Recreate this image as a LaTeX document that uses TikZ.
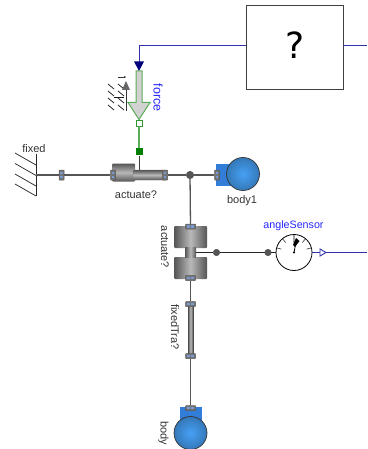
\documentclass[tikz,border=0pt]{standalone}
\usepackage{fontspec}
\setmainfont{Liberation Sans}
\newfontfamily\qfont{DejaVu Sans}
\usetikzlibrary{arrows.meta}
\definecolor{navy}{RGB}{0,0,127}
\definecolor{sig}{RGB}{50,50,170}
\definecolor{grn}{RGB}{0,127,0}
\definecolor{mech}{RGB}{85,85,85}
\definecolor{ballb}{RGB}{70,160,245}
\definecolor{portb}{RGB}{50,125,215}
\definecolor{cdark}{RGB}{85,85,85}
\definecolor{clight}{RGB}{185,185,185}
\tikzset{
 lbl/.style={font=\fontsize{11}{12}\selectfont,text=black!80,inner sep=0pt},
 bluelbl/.style={font=\fontsize{10.7}{12}\selectfont,text=blue!85!white,inner sep=0pt},
 mline/.style={draw=mech,line width=1.3pt},
 gline/.style={draw=grn!65!white,line width=1.1pt},
 sline/.style={draw=sig,line width=.9pt},
 junct/.style={circle,fill=mech,draw=black!70,line width=.4pt,minimum size=7.5pt,inner sep=0pt},
 connv/.style={rectangle,rounded corners=.6pt,fill=black!55,draw=black!65,line width=.5pt,minimum width=5pt,minimum height=10pt,inner sep=0pt},
 connh/.style={rectangle,rounded corners=.6pt,fill=black!55,draw=black!65,line width=.5pt,minimum width=10pt,minimum height=5pt,inner sep=0pt},
 dot/.style={fill=cyan!45!blue!55!white,draw=none,minimum size=2.2pt,inner sep=0pt,rectangle},
 ball/.style={circle,draw=black!80,line width=.7pt,inner color=ballb,outer color=ballb!75!black,minimum size=33pt,inner sep=0pt},
 cylh/.style={rectangle,rounded corners=1pt,draw=none,top color=cdark,bottom color=cdark,middle color=clight,inner sep=0pt},
 cylv/.style={rectangle,rounded corners=1pt,draw=none,left color=cdark,right color=cdark,middle color=clight,inner sep=0pt},
}
\newcommand{\vport}[2]{\node[connv] (#1) at (#2) {};
 \node[dot] at ([yshift=2pt]#1.center) {}; \node[dot] at ([yshift=-2pt]#1.center) {};}
\newcommand{\hport}[2]{\node[connh] (#1) at (#2) {};
 \node[dot] at ([xshift=2pt]#1.center) {}; \node[dot] at ([xshift=-2pt]#1.center) {};}
\begin{document}
\begin{tikzpicture}[x=1pt,y=-1pt]
\useasboundingbox (0,0) rectangle (367,449);
% controller
\node[draw=black!75,line width=.9pt,fill=white,minimum width=96.5pt,minimum height=84pt,inner sep=0pt] (ctrl) at (294.7,47.5) {};
\node[font=\qfont\fontsize{36}{40}\selectfont,text=black,inner sep=0pt] (q) at (294.7,45.5) {?};
% force
\coordinate (fc) at (139,45.5);
\coordinate (rout) at (367,45.5);
\coordinate (ftop) at (139,62);
\draw[sline] (ctrl.west |- fc) -- (fc) -- (ftop);
\draw[sline] (ctrl.east |- rout) -- (rout);
\fill[navy] (134,61.5) -- (144,61.5) -- (139,71) -- cycle;
\draw[gline,fill=gray!35,line width=1pt] (136,71) -- (142,71) -- (142,102.5) -- (150,102.5) -- (139,119.5) -- (128,102.5) -- (136,102.5) -- cycle;
\node[rectangle,draw=grn!80!white,fill=white,line width=.8pt,minimum size=6pt,inner sep=0pt] (fa) at (139,123) {};
\node[rectangle,fill=grn,minimum size=7pt,inner sep=0pt] (fb) at (139,152) {};
\draw[gline] (fa) -- (fb);
\node[bluelbl,rotate=-90,font=\fontsize{12.5}{14}\selectfont] (flbl) at (158,97.5) {force};
% support symbol
\draw[black!90,line width=.8pt] (114,97) -- (124,97);
\foreach \y in {85,92,99,106}{\draw[black!85,line width=.8pt] (108,\y-1) -- (114,\y+4); \draw[black!85,line width=.8pt] (118,\y-1) -- (124,\y+4);}
\draw[black!80,line width=.9pt] (126,111) -- (126,88);
\fill[gray!80!black] (122,90) -- (130,90) -- (126,81) -- cycle;
\draw[black!80,line width=.6pt,-{Stealth[length=2pt,width=2pt]}] (118,77) -- (126,77);
% fixed
\node[lbl] (fixedl) at (34,149) {fixed};
\coordinate (fixedc) at (36,175);
\draw[black!85,line width=.8pt] (36,154) -- (36,196);
\foreach \y in {153,163.5,174,184}{\draw[black!85,line width=.7pt] (15,\y) -- (36,\y+12);}
\vport{p1}{61.5,175}
\draw[mline] (fixedc) -- (p1);
% horizontal prismatic
\node[cylh,minimum width=23pt,minimum height=18pt] (cyl) at (123.5,172.5) {};
\node[cylh,draw=black!55,line width=.3pt,minimum width=33pt,minimum height=10pt] (rod) at (149.5,175) {};
\vport{p2}{113,175}
\vport{p3}{165,175}
\draw[mline] (p1) -- (p2);
\draw[black!75,line width=1pt] (fb) -- (139,170);
\node[lbl] (act1) at (136,195) {actuate?};
% junction
\node[junct] (j1) at (190,175) {};
\draw[mline] (p3) -- (j1);
% body1
\fill[portb] (216,164) rectangle (235,185.5);
\node[ball] (b1) at (243,174) {};
\vport{p4}{217,175}
\draw[mline] (j1) -- (p4);
\node[lbl] (b1l) at (242,201) {body1};
% vertical prismatic
\node[cylv,minimum width=33pt,minimum height=22pt] (blk1) at (190.5,237) {};
\node[cylv,minimum width=33pt,minimum height=22pt] (blk2) at (190.5,268) {};
\node[cylv,rounded corners=0pt,minimum width=11pt,minimum height=10pt] (neck) at (190.5,252.5) {};
\hport{p5}{190.5,226.5}
\hport{p6}{190.5,278}
\draw[mline] (j1) -- (p5);
\node[lbl,rotate=-90] (act2) at (165,247) {actuate?};
% sensor
\node[junct,minimum size=6.5pt] (j2) at (216.5,252.5) {};
\node[junct,minimum size=6.5pt] (j3) at (268,252.5) {};
\draw[black!85,line width=.9pt] (neck) -- (j2);
\draw[black!85,line width=.9pt] (j2) -- (j3);
\node[circle,draw=black,line width=.8pt,fill=white,minimum size=36pt,inner sep=0pt] (sens) at (294,252.5) {};
\draw[black!85,line width=.9pt] (j3) -- (sens);
\foreach \a in {-165,-130,-50,-15}{\draw[black!80,line width=.6pt] (sens.center) ++(\a:18) -- ++(\a:-5);}
\draw[gray!70,line width=1.3pt] (294,235) -- (294,243);
\fill[black] (296,238) -- (299.5,241) -- (295,247) -- (293,245) -- cycle;
\draw[black,line width=.8pt] (sens.center) -- (296,242);
\fill[black] (sens.center) circle (1.2pt);
\node[bluelbl] (angl) at (293.5,226) {angleSensor};
% output
\coordinate (sout) at (367,252.5);
\draw[sline] (sens) -- (sout);
\draw[draw=sig,fill=white,line width=.9pt] (320,249) -- (326,252.5) -- (320,256) -- cycle;
% fixedTra
\node[cylv,rounded corners=0pt,minimum width=5pt,minimum height=52pt] (rod2) at (190.5,330) {};
\draw[black!70,line width=.5pt] (188,304) -- (188,356) (193,304) -- (193,356);
\hport{p7}{190.5,304}
\hport{p8}{190.5,356}
\draw[mline] (p6) -- (p7);
\node[lbl,rotate=-90] (ftl) at (175,327) {fixedTra?};
% body
\fill[portb] (180,407) rectangle (202,425);
\node[ball] (b2) at (190.5,433) {};
\hport{p9}{190.5,408}
\draw[mline] (p8) -- (p9);
\node[lbl,rotate=-90] (bl) at (163.5,433) {body};
\end{tikzpicture}
\end{document}
